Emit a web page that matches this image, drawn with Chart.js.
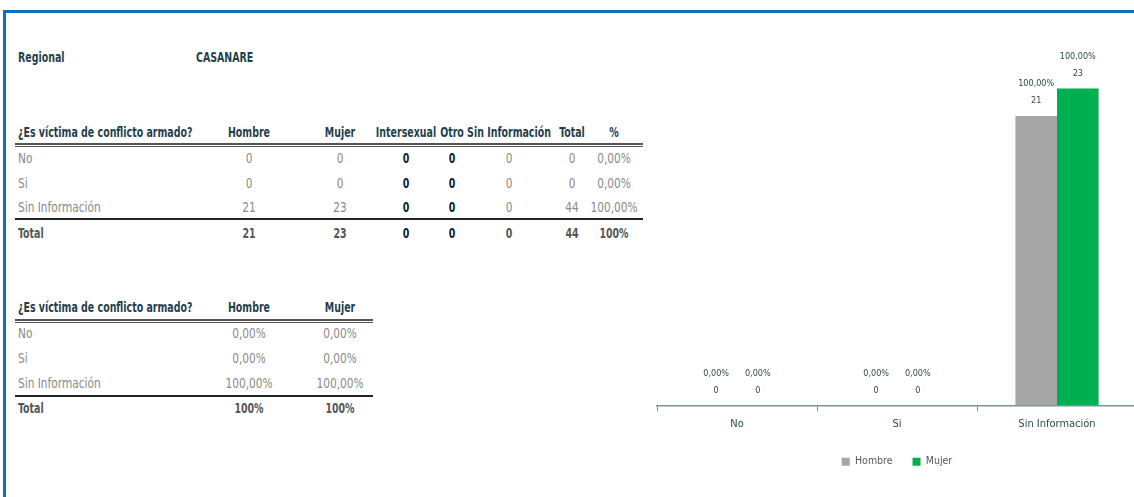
<!DOCTYPE html>
<html>
<head>
<meta charset="utf-8">
<script src="https://cdn.jsdelivr.net/npm/chart.js@4"></script>
<style>
  body { margin: 0; width: 1134px; height: 497px; overflow: hidden; background: #fff;
         font-family: "DejaVu Sans Condensed", "DejaVu Sans", sans-serif; }
  #frame { position: absolute; left: 3px; top: 10px; width: 1200px; height: 600px;
           border-left: 3px solid #0a70c2; border-top: 3px solid #0a70c2; }
  .t { position: absolute; white-space: nowrap; font-size: 14px; line-height: 16px; transform-origin: 0 0; }
  .hd { color: #1f3f4e; font-weight: bold; }
  .bd { color: #8a8a8a; }
  .tot { color: #555; font-weight: bold; }
  .blk { color: #0c2430; font-weight: bold; }
  .dbl { position: absolute; height: 1px; border-top: 2px solid #555; border-bottom: 1px solid #555; }
  .sgl { position: absolute; height: 0; border-top: 2px solid #222; }
  #chartBox { position: absolute; left: 640px; top: 40px; width: 500px; height: 437px; }
</style>
</head>
<body>
<div id="frame"></div>
<div id="tables"></div>
<div id="chartBox"><canvas id="chartVict"></canvas></div>
<script>
// Datos
const regional = 'CASANARE';
const categories = ['No', 'Si', 'Sin Información'];
const hombre = [0, 0, 21];
const mujer = [0, 0, 23];
const intersexual = [0, 0, 0];
const otro = [0, 0, 0];
const sinInfo = [0, 0, 0];
const total = [0, 0, 44];
const totalPct = ['0,00%', '0,00%', '100,00%'];
const hombrePct = ['0,00%', '0,00%', '100,00%'];
const mujerPct = ['0,00%', '0,00%', '100,00%'];
const totalsRow = ['21', '23', '0', '0', '0', '44', '100%'];
const totalsPctRow = ['100%', '100%'];
const headers1 = ['Hombre', 'Mujer', 'Intersexual', 'Otro', 'Sin Información', 'Total', '%'];
const headers2 = ['Hombre', 'Mujer'];
const question = '¿Es víctima de conflicto armado?';

const el = id => document.getElementById(id);
const box = el('tables');
const FONT = '"DejaVu Sans Condensed", "DejaVu Sans", sans-serif';

// texto comprimido a lo ancho (la fuente original es estrecha)
function txt(s, x, y, cls, align) {
  const d = document.createElement('div');
  d.className = 't ' + cls;
  d.textContent = s;
  d.style.top = (y - 8) + 'px';
  d.style.left = x + 'px';
  const sx = (cls === 'bd') ? 0.84 : 0.75;
  d.style.transform = align === 'c' ? `scaleX(${sx}) translateX(-50%)` : `scaleX(${sx})`;
  box.appendChild(d);
}
function line(cls, x1, x2, y) {
  const d = document.createElement('div');
  d.className = cls;
  d.style.left = x1 + 'px'; d.style.width = (x2 - x1) + 'px'; d.style.top = y + 'px';
  box.appendChild(d);
}

txt('Regional', 18, 57, 'hd');
txt(regional, 196, 57, 'hd');

// tabla 1
const cols1 = [249, 340, 406, 452, 509, 572, 614];
const rows1 = [158, 183, 207];
txt(question, 18, 132, 'hd');
headers1.forEach((h, i) => txt(h, cols1[i], 132, 'hd', 'c'));
line('dbl', 15, 643, 143);
categories.forEach((c, r) => {
  const y = rows1[r];
  txt(c, 18, y, 'bd');
  const vals = [hombre[r], mujer[r], intersexual[r], otro[r], sinInfo[r], total[r], totalPct[r]];
  vals.forEach((v, i) => txt(String(v), cols1[i], y, (i === 2 || i === 3) ? 'blk' : 'bd', 'c'));
});
line('sgl', 15, 643, 218);
txt('Total', 18, 233, 'tot');
totalsRow.forEach((v, i) => txt(v, cols1[i], 233, (i === 2 || i === 3) ? 'blk' : 'tot', 'c'));

// tabla 2
const cols2 = [249, 340];
const rows2 = [333, 358, 383];
txt(question, 18, 307, 'hd');
headers2.forEach((h, i) => txt(h, cols2[i], 307, 'hd', 'c'));
line('dbl', 15, 373, 319);
categories.forEach((c, r) => {
  const y = rows2[r];
  txt(c, 18, y, 'bd');
  txt(hombrePct[r], cols2[0], y, 'bd', 'c');
  txt(mujerPct[r], cols2[1], y, 'bd', 'c');
});
line('sgl', 15, 373, 395);
txt('Total', 18, 408, 'tot');
totalsPctRow.forEach((v, i) => txt(v, cols2[i], 408, 'tot', 'c'));

// Etiquetas sobre barras
const barLabels = {
  id: 'barLabels',
  afterDatasetsDraw(c) {
    const ctx = c.ctx;
    ctx.save();
    ctx.textAlign = 'center';
    ctx.textBaseline = 'middle';
    ctx.fillStyle = '#2f4a53';
    ctx.font = '9px ' + FONT;
    c.data.datasets.forEach((ds, di) => {
      c.getDatasetMeta(di).data.forEach((bar, i) => {
        ctx.fillText(ds.pct[i], bar.x, bar.y - 32);
        ctx.fillText(String(ds.data[i]), bar.x, bar.y - 15);
      });
    });
    ctx.restore();
  }
};

let chart = new Chart(el('chartVict').getContext('2d'), {
  type: 'bar',
  data: {
    labels: categories,
    datasets: [
      { label: 'Hombre', data: hombre, pct: hombrePct, backgroundColor: '#a6a6a6' },
      { label: 'Mujer', data: mujer, pct: mujerPct, backgroundColor: '#00b050' }
    ]
  },
  options: {
    responsive: true,
    maintainAspectRatio: false,
    animation: false,
    categoryPercentage: 0.52,
    barPercentage: 1.0,
    layout: { padding: { left: 17, right: 3, top: 10, bottom: 0 } },
    scales: {
      x: {
        grid: { display: true, drawOnChartArea: false, drawTicks: true, tickLength: 6, color: '#7f9297', offset: true },
        border: { color: '#7f9297', width: 1.5 },
        ticks: { color: '#2f4a53', padding: 6, font: { size: 11, family: FONT } }
      },
      y: { display: false, min: 0, max: 25.8 }
    },
    plugins: {
      legend: {
        position: 'bottom',
        labels: { boxWidth: 8, boxHeight: 8, padding: 20, color: '#595959',
                  font: { size: 10.5, family: FONT } }
      },
      tooltip: { enabled: false }
    }
  },
  plugins: [barLabels]
});
</script>
</body>
</html>
